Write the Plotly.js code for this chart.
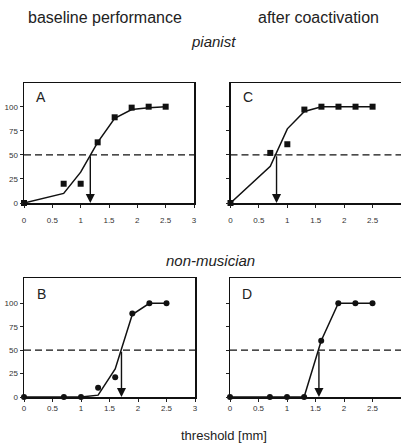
<!DOCTYPE html>
<html><head><meta charset="utf-8">
<script src="https://cdn.plot.ly/plotly-3.0.1.min.js"></script>
<style>html,body{margin:0;padding:0;background:#fff}#c{width:401px;height:445px}</style>
</head><body><div id="c"></div>
<script>
const thresholds = [0, 0.7, 1.0, 1.3, 1.6, 1.9, 2.2, 2.5];
const pianistBaseData = [0, 20, 20, 63, 89, 99, 100, 100];
const pianistBaseFit  = [0, 10, 32, 63, 88, 97, 99, 100];
const pianistCoData   = [0, 52, 61, 97, 100, 100, 100, 100];
const pianistCoFit    = [0, 38, 77, 95, 100, 100, 100, 100];
const nonMusBaseData  = [0, 0, 0, 10, 21, 89, 100, 100];
const nonMusBaseFit   = [0, 0, 0, 2, 30, 88, 100, 100];
const nonMusCoData    = [0, 0, 0, 0, 60, 100, 100, 100];
const nonMusCoFit     = [0, 0, 0, 0, 60, 100, 100, 100];
const threshold50     = [1.17, 0.81, 1.71, 1.56];
const panelLetters    = ["A", "C", "B", "D"];
const criterion       = 50;
const yTicks          = [0, 25, 50, 75, 100];

const panels = [
  {fit: pianistBaseFit, data: pianistBaseData, sym: 'square', t: threshold50[0], letter: panelLetters[0], xa: 'x',  ya: 'y'},
  {fit: pianistCoFit,   data: pianistCoData,   sym: 'square', t: threshold50[1], letter: panelLetters[1], xa: 'x2', ya: 'y2'},
  {fit: nonMusBaseFit,  data: nonMusBaseData,  sym: 'circle', t: threshold50[2], letter: panelLetters[2], xa: 'x3', ya: 'y3'},
  {fit: nonMusCoFit,    data: nonMusCoData,    sym: 'circle', t: threshold50[3], letter: panelLetters[3], xa: 'x4', ya: 'y4'}
];

const traces = [];
const annotations = [];
panels.forEach(p => {
  traces.push({x: [0, 3], y: [criterion, criterion], xaxis: p.xa, yaxis: p.ya, mode: 'lines',
    line: {color: '#111', width: 1.3, dash: '7px,4px'}, hoverinfo: 'skip'});
  traces.push({x: thresholds, y: p.fit, xaxis: p.xa, yaxis: p.ya, mode: 'lines',
    line: {color: '#111', width: 1.5}, cliponaxis: false});
  traces.push({x: thresholds, y: p.data, xaxis: p.xa, yaxis: p.ya, mode: 'markers',
    marker: {symbol: p.sym, size: 6, color: '#111'}, cliponaxis: false});
  annotations.push({x: p.t, y: 0, ax: p.t, ay: criterion, xref: p.xa, yref: p.ya, axref: p.xa, ayref: p.ya,
    showarrow: true, arrowhead: 2, arrowsize: 1.3, arrowwidth: 1.4, arrowcolor: '#111', text: ''});
  annotations.push({x: 0.3, y: 110, xref: p.xa, yref: p.ya, text: p.letter, showarrow: false,
    font: {family: 'Liberation Sans, Arial, sans-serif', size: 14, color: '#222'}});
});

const txt = (t, x, y, size, italic) => ({text: italic ? '<i>' + t + '</i>' : t, x: x / 401, y: 1 - y / 445,
  xref: 'paper', yref: 'paper', showarrow: false, xanchor: 'center', yanchor: 'middle',
  font: {family: 'Liberation Sans, Arial, sans-serif', size: size, color: '#222'}});
annotations.push(txt('baseline performance', 105, 17, 16, false));
annotations.push(txt('after coactivation', 318, 17, 16, false));
annotations.push(txt('pianist', 214, 42, 15, true));
annotations.push(txt('non-musician', 210, 260, 15, true));
annotations.push(txt('threshold [mm]', 224, 435, 13, false));

const tickFont = {family: 'Liberation Sans, Arial, sans-serif', size: 8, color: '#333'};
const xax = (d, standoff) => ({domain: d, range: [0, 3], dtick: 0.5, tick0: 0, ticks: 'outside', ticklen: 3,
  tickcolor: '#222', showline: true, mirror: true, linecolor: '#111', linewidth: 1.5, showgrid: false,
  zeroline: false, tickfont: tickFont, ticklabelstandoff: standoff, fixedrange: true});
const yax = (d, r, labels) => ({domain: d, range: r, tickvals: yTicks, ticks: 'outside', ticklen: 3,
  tickcolor: '#222', showline: true, mirror: true, linecolor: '#111', linewidth: 1.5, showgrid: false,
  zeroline: false, showticklabels: labels, tickfont: tickFont, fixedrange: true});

const topD = [1 - 203 / 445, 1 - 83 / 445];
const botD = [1 - 397 / 445, 1 - 278 / 445];
const layout = {
  width: 401, height: 445, margin: {l: 0, r: 0, t: 0, b: 0}, showlegend: false,
  paper_bgcolor: '#fff', plot_bgcolor: '#fff',
  xaxis:  Object.assign(xax([24 / 401, 194 / 401], 6), {anchor: 'y'}),
  yaxis:  Object.assign(yax(topD, [0, 124.6], true), {anchor: 'x'}),
  xaxis2: Object.assign(xax([230.5 / 401, 1], 6), {anchor: 'y2'}),
  yaxis2: Object.assign(yax(topD, [0, 124.6], false), {anchor: 'x2'}),
  xaxis3: Object.assign(xax([24 / 401, 195 / 401], 0), {anchor: 'y3'}),
  yaxis3: Object.assign(yax(botD, [0, 127], true), {anchor: 'x3'}),
  xaxis4: Object.assign(xax([230 / 401, 1], 0), {anchor: 'y4'}),
  yaxis4: Object.assign(yax(botD, [0, 127], false), {anchor: 'x4'}),
  annotations: annotations
};
Plotly.newPlot('c', traces, layout, {staticPlot: true});
</script></body></html>
